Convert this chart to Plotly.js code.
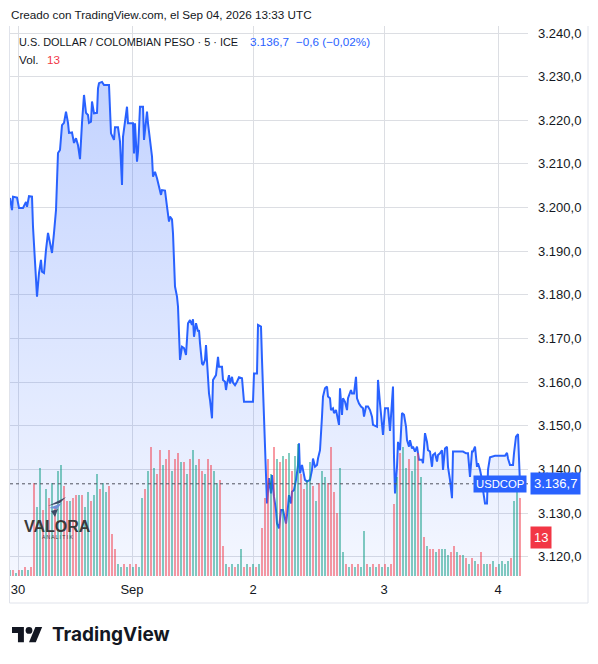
<!DOCTYPE html>
<html><head><meta charset="utf-8">
<script src="https://cdn.plot.ly/plotly-3.0.1.min.js"></script>
<style>html,body{margin:0;padding:0;background:#fff;}#chart{width:598px;height:664px;}</style>
</head><body><div id="chart"></div>
<script>
// ---- DATA (5-minute bar number, price) ----
const priceBars = [
 0,2,3,7,9,13,16,17,19,22,
 23,25,27,29,31,32,34,36,38,40,
 42,44,46,48,50,52,54,56,58,59,
 62,64,66,68,70,72,74,76,78,79,
 81,82,84,87,88,89,92,94,97,99,
 101,102,104,105,108,110,112,113,114,117,
 118,123,124,125,127,128,130,133,134,137,
 138,141,142,143,145,147,149,151,152,155,
 157,159,160,162,163,165,167,168,170,172,
 174,176,178,180,182,183,184,186,188,189,
 190,192,193,195,196,197,199,200,202,203,
 206,208,209,212,213,215,216,217,219,220,
 222,223,225,227,229,232,234,238,243,244,
 247,248,251,252,254,256,257,259,261,262,
 264,266,267,269,271,273,274,276,278,279,
 281,282,284,286,288,289,290,292,293,295,
 297,300,302,303,305,307,308,310,312,313,
 315,317,318,320,321,323,324,326,327,329,
 330,332,333,335,337,338,341,342,344,346,
 347,349,351,353,354,356,358,360,362,363,
 367,368,370,372,373,375,378,380,383,384,
 385,387,388,390,392,394,396,397,399,400,
 402,403,405,407,409,412,413,415,417,418,
 420,422,423,425,427,428,430,432,433,435,
 437,438,440,442,443,447,450,453,456,458,
 460,462,463,465,467,468,470,472,473,475,
 477,478,480,485,490,495,497,498,500,503,
 504,506,508,509,510];
const priceValues = [
 3202.2,3199.4,3202.5,3202.3,3199.9,3199.9,3201.3,3200.2,3202.6,3202.5,
 3195.6,3188.7,3179.6,3185.0,3188.0,3185.3,3185.0,3190.3,3194.2,3191.9,
 3189.6,3194.2,3199.4,3212.5,3213.2,3218.9,3219.4,3222.0,3219.4,3217.1,
 3217.2,3214.8,3215.9,3214.3,3211.1,3219.4,3225.8,3221.7,3221.2,3219.4,
 3219.7,3224.3,3221.6,3221.7,3227.3,3228.5,3228.8,3228.1,3228.1,3228.1,
 3217.0,3216.6,3215.5,3218.4,3218.4,3215.1,3205.2,3216.2,3217.8,3223.1,
 3219.3,3219.3,3212.4,3219.3,3210.5,3212.8,3223.1,3223.1,3215.5,3222.0,
 3219.3,3212.8,3211.7,3207.1,3208.2,3206.7,3204.8,3202.9,3204.0,3203.9,
 3200.2,3196.8,3197.9,3197.3,3194.1,3181.9,3179.6,3177.3,3165.1,3168.1,
 3167.8,3166.2,3173.5,3174.2,3173.1,3174.4,3170.4,3173.5,3171.6,3171.9,
 3168.9,3164.3,3163.9,3165.1,3168.5,3164.3,3157.4,3155.9,3151.7,3160.5,
 3161.6,3165.8,3163.5,3163.5,3160.5,3160.1,3158.2,3159.7,3161.6,3159.7,
 3161.2,3159.9,3159.3,3160.1,3161.1,3160.9,3155.5,3155.5,3155.5,3162.0,
 3162.0,3173.1,3172.7,3165.1,3151.3,3141.4,3132.2,3138.0,3134.5,3138.7,
 3133.7,3130.7,3127.6,3126.5,3130.7,3130.7,3129.6,3127.6,3131.5,3134.1,
 3132.2,3134.9,3135.3,3137.6,3141.0,3146.0,3139.1,3141.0,3139.9,3137.6,
 3137.2,3137.6,3139.9,3142.5,3140.6,3141.0,3142.5,3144.4,3152.1,3156.7,
 3158.6,3159.0,3156.7,3156.3,3153.6,3154.0,3152.9,3153.6,3152.5,3150.2,
 3158.6,3152.5,3156.3,3155.5,3153.6,3156.3,3158.2,3157.4,3157.4,3161.2,
 3156.3,3155.1,3154.4,3154.0,3152.1,3154.4,3154.4,3153.6,3152.1,3150.2,
 3149.8,3160.5,3155.1,3149.0,3147.9,3154.0,3154.0,3148.8,3159.0,3142.9,
 3134.5,3140.6,3146.3,3144.4,3152.9,3152.5,3149.8,3146.7,3145.2,3146.7,
 3144.8,3145.2,3144.1,3145.2,3142.2,3142.2,3141.4,3148.3,3146.3,3144.4,
 3144.1,3140.6,3143.3,3143.7,3141.8,3143.3,3143.7,3144.4,3139.9,3144.8,
 3145.2,3140.6,3137.6,3133.4,3144.1,3144.1,3144.1,3144.1,3143.7,3143.7,
 3138.3,3144.1,3144.1,3145.2,3140.6,3141.4,3139.9,3137.6,3135.3,3132.2,
 3132.2,3139.9,3142.8,3143.1,3143.1,3143.1,3143.8,3142.5,3141.0,3141.0,
 3143.7,3147.5,3148.1,3139.9,3136.7];

// volume bars (one every 3 bar units), 1 = up (teal), 0 = down (red)
const volume = [
 2,2,1,2,2,3,2,3,31,23,
 36,22,29,26,31,23,35,37,30,25,
 25,26,27,27,27,23,28,25,27,34,
 29,31,28,30,14,9,4,3,4,3,
 4,3,4,3,26,29,35,43,36,34,
 42,37,39,42,35,39,41,38,38,34,
 39,42,37,39,35,34,39,37,35,31,
 32,10,4,3,4,3,4,9,3,4,
 3,4,3,4,16,26,39,34,43,39,
 38,40,39,41,35,40,44,34,29,32,
 38,30,25,31,35,33,31,43,28,21,
 36,8,4,3,4,3,4,3,15,4,
 3,4,3,4,3,4,3,4,24,33,
 41,43,36,39,35,40,41,33,13,10,
 9,9,8,9,9,9,7,8,10,8,
 7,7,6,4,6,5,4,8,4,4,
 4,5,3,4,5,4,5,6,25,28,26];
const volumeUp = [
 1,0,1,0,1,0,1,0,0,1,
 1,0,1,0,1,0,1,1,0,0,
 1,0,0,1,0,1,1,0,1,1,
 0,1,1,0,0,0,1,1,0,1,
 0,1,0,1,1,0,1,0,1,0,
 0,1,0,0,1,0,0,1,0,1,
 0,1,1,0,0,1,0,0,1,1,
 0,0,1,0,1,0,1,1,0,1,
 0,1,0,1,0,0,0,1,0,1,
 0,1,0,1,0,1,1,0,0,1,
 1,0,1,0,1,1,0,0,0,0,
 1,1,0,1,0,1,0,1,1,0,
 1,0,1,0,1,0,1,0,0,1,
 0,1,1,0,1,1,0,1,0,1,
 0,0,1,0,1,1,1,0,0,1,
 0,1,0,1,0,1,0,0,1,1,
 0,1,0,1,1,1,1,0,1,1,0];
const volumeStep = 3;
const lastVolume = 13;
const lastPrice = 3136.7;
const symbol = "USDCOP";
const tickBars = [8,122,243,374,488];
const tickLabels = ["30","Sep","2","3","4"];
const priceTicks = [3120,3130,3140,3150,3160,3170,3180,3190,3200,3210,3220,3230,3240];

// ---- LAYOUT HELPERS (pixel -> paper) ----
const L=10, R=528, T=26, B=576;
const px = x => (x-L)/(R-L);
const py = y => (B-y)/(B-T);
const yRange = [3240-(B-33)/4.364, 3240+(33-T)/4.364];
const FONT = "Liberation Sans, Arial, sans-serif";
const TXT = "#131722";

const volBars = volume.map((_, i) => i*volumeStep);
const volColors = volumeUp.map(u => u ? "rgba(8,153,129,0.5)" : "rgba(242,54,69,0.5)");

const traces = [
 {type:"bar", x:volBars, y:volume, yaxis:"y2", marker:{color:volColors, line:{width:0}},
  width:2, hoverinfo:"skip", showlegend:false},
 {type:"scatter", mode:"lines", x:priceBars, y:priceValues, fill:"tozeroy",
  fillgradient:{type:"vertical", start:yRange[0], stop:Math.max(...priceValues),
    colorscale:[[0,"rgba(41,98,255,0.05)"],[1,"rgba(41,98,255,0.28)"]]},
  line:{color:"#2962ff", width:2}, showlegend:false, hoverinfo:"skip"}
];

function poly(pts){ return "M"+pts.map(p=>px(p[0]).toFixed(5)+","+py(p[1]).toFixed(5)).join("L")+"Z"; }
// TradingView logo (viewBox 36x28 scaled)
const s=0.85, ox=12, oy=627-4*s;
const tv = p => [ox+p[0]*s, oy+p[1]*s];
const logoT = [[14,22],[7,22],[7,11],[0,11],[0,4],[14,4]].map(tv);
const logoS = [[28,22],[20,22],[27.5,4],[35.5,4]].map(tv);
const dotC = tv([20,8]), dotR = 4*s;

const shapes = [
 {type:"line", xref:"paper", yref:"y", x0:0, x1:1, y0:lastPrice, y1:lastPrice,
  line:{color:"#50535e", width:1, dash:"dot"}},
 // widget frame
 {type:"line", xref:"paper", yref:"paper", x0:px(9.5), x1:px(9.5), y0:py(26), y1:py(603), line:{color:"#e0e3eb", width:1}},
 {type:"line", xref:"paper", yref:"paper", x0:px(588), x1:px(588), y0:py(26), y1:py(603), line:{color:"#e0e3eb", width:1}},
 {type:"line", xref:"paper", yref:"paper", x0:px(9.5), x1:px(588), y0:py(603), y1:py(603), line:{color:"#e0e3eb", width:1}},
 // TradingView logo
 {type:"path", xref:"paper", yref:"paper", path:poly(logoT), fillcolor:"#131722", line:{width:0}},
 {type:"path", xref:"paper", yref:"paper", path:poly(logoS), fillcolor:"#131722", line:{width:0}},
 {type:"circle", xref:"paper", yref:"paper", x0:px(dotC[0]-dotR), x1:px(dotC[0]+dotR), y0:py(dotC[1]+dotR), y1:py(dotC[1]-dotR), fillcolor:"#131722", line:{width:0}},
 // Valora watermark icon
 {type:"path", xref:"paper", yref:"paper", path:poly([[48,506],[66,497],[60,503]]), fillcolor:"#3d4a66", line:{width:0}},
 {type:"path", xref:"paper", yref:"paper", path:poly([[49,508],[62,503],[57,509]]), fillcolor:"#6f8fd8", line:{width:0}},
 {type:"path", xref:"paper", yref:"paper", path:poly([[51,511],[58,509],[55,517]]), fillcolor:"#3d4a66", line:{width:0}}
];

function ann(text, x, y, opts){ return Object.assign({text, xref:"paper", yref:"paper", x:px(x), y:py(y),
  xanchor:"left", yanchor:"middle", showarrow:false, font:{family:FONT, size:12, color:TXT}}, opts||{}); }

const annotations = [
 ann("Creado con TradingView.com, el Sep 04, 2026 13:33 UTC", 9, 14, {font:{family:FONT, size:11.7, color:TXT}}),
 ann("U.S. DOLLAR / COLOMBIAN PESO · 5 · ICE", 17, 42, {font:{family:FONT, size:10.9, color:TXT}}),
 ann("3.136,7", 248, 42, {font:{family:FONT, size:11.7, color:"#2962ff"}}),
 ann("−0,6 (−0,02%)", 294, 42, {font:{family:FONT, size:11.7, color:"#2962ff"}}),
 ann("Vol.", 17, 59, {font:{family:FONT, size:11.7, color:TXT}}),
 ann("13", 45, 59, {font:{family:FONT, size:11.7, color:"#f23645"}}),
 {text:symbol, xref:"paper", yref:"y", x:px(527), y:lastPrice, xanchor:"right", yanchor:"middle",
  showarrow:false, bgcolor:"#2962ff", borderpad:2, font:{family:FONT, size:11.3, color:"#ffffff"}},
 {text:"3.136,7", xref:"paper", yref:"y", x:px(530), y:lastPrice, xanchor:"left", yanchor:"middle",
  showarrow:false, bgcolor:"#2962ff", borderpad:3, font:{family:FONT, size:13, color:"#ffffff"}},
 {text:String(lastVolume), xref:"paper", yref:"y2", x:px(530), y:lastVolume, xanchor:"left", yanchor:"middle",
  showarrow:false, bgcolor:"#f23645", borderpad:3, font:{family:FONT, size:13, color:"#ffffff"}},
 ann("<b>VALORA</b>", 57, 526, {xanchor:"center", font:{family:FONT, size:16, color:"#3a3a3a"}}),
 ann("A N A L I T I K", 57, 537, {xanchor:"center", font:{family:FONT, size:5, color:"#3a3a3a"}}),
 ann("TradingView", 50, 634, {font:{family:"Inter, Roboto, sans-serif", size:19, color:"#131722", weight:700}})
];

const layout = {
 width:598, height:664, margin:{l:L, r:598-R, t:T, b:664-B, pad:0},
 paper_bgcolor:"#ffffff", plot_bgcolor:"#ffffff", separators:",.",
 showlegend:false, bargap:0,
 xaxis:{range:[0,518], tickmode:"array", tickvals:tickBars, ticktext:tickLabels,
  showgrid:true, gridcolor:"#dcdee3", gridwidth:1, zeroline:false, showline:false, ticks:"",
  tickfont:{family:FONT, size:13, color:TXT}, ticklabelstandoff:4, fixedrange:true, automargin:false},
 yaxis:{side:"right", range:yRange, tickmode:"array", tickvals:priceTicks, tickformat:",.1f",
  showgrid:true, gridcolor:"#dcdee3", gridwidth:1, zeroline:false, showline:false, ticks:"",
  tickfont:{family:FONT, size:13, color:TXT}, ticklabelstandoff:9, automargin:false},
 yaxis2:{overlaying:"y", range:[0,(B-T)/3], visible:false, showgrid:false, zeroline:false},
 shapes, annotations
};

Plotly.newPlot("chart", traces, layout, {displayModeBar:false, staticPlot:true});
</script></body></html>
